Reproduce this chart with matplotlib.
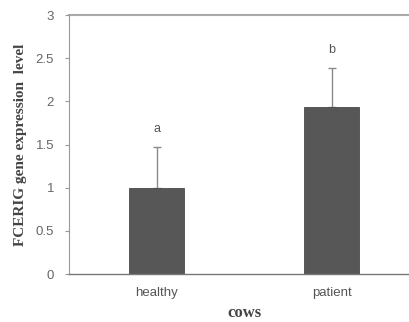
import matplotlib
matplotlib.use("Agg")
import matplotlib.pyplot as plt
import numpy as np

categories = ["healthy", "patient"]
values = [1.0, 1.93]
errors_up = [0.47, 0.46]
letters = ["a", "b"]
letter_y = [1.68, 2.6]
yticks = [0, 0.5, 1, 1.5, 2, 2.5, 3]
ytick_labels = ["0", "0.5", "1", "1.5", "2", "2.5", "3"]

fig = plt.figure(figsize=(4.09, 3.22), dpi=100)
ax = fig.add_axes([0.1695, 0.149, 0.8557, 0.804])
x = np.arange(len(categories))
ax.bar(x, values, width=0.314, color="#575757", edgecolor="#4a4a4a", linewidth=0.6, zorder=2)
ax.errorbar(x, values, yerr=[np.zeros(len(values)), errors_up], fmt="none",
            ecolor="#8a8a8a", elinewidth=1.0, capsize=3, capthick=1.0, zorder=1)
for xi, t, ly in zip(x, letters, letter_y):
    ax.text(xi, ly, t, ha="center", va="center", fontsize=9, color="#555555",
            family="Liberation Sans")

ax.set_xlim(-0.5, 1.5)
ax.set_ylim(0, 3)
ax.set_yticks(yticks)
ax.set_yticklabels(ytick_labels, fontsize=9.5, color="#666666", family="Liberation Sans")
ax.set_xticks(x)
ax.set_xticklabels(categories, fontsize=9.5, color="#555555", family="Liberation Sans")
ax.tick_params(axis="x", length=0, pad=9)
ax.tick_params(axis="y", length=3, color="#999999", pad=8, direction="out")
ax.axhline(3, color="#aaaaaa", linewidth=1.5, zorder=0, clip_on=False)
for s in ["top", "right"]:
    ax.spines[s].set_visible(False)
ax.spines["left"].set_color("#999999")
ax.spines["bottom"].set_color("#777777")
ax.spines["bottom"].set_linewidth(1.0)

ax.set_ylabel("FCERIG gene expression  level", fontsize=11, fontweight="bold",
              family="Liberation Serif", color="#444444", labelpad=6)
ax.set_xlabel("cows", fontsize=12, fontweight="bold", family="Liberation Serif",
              color="#444444", labelpad=5)

fig.savefig("out.png", dpi=100)
